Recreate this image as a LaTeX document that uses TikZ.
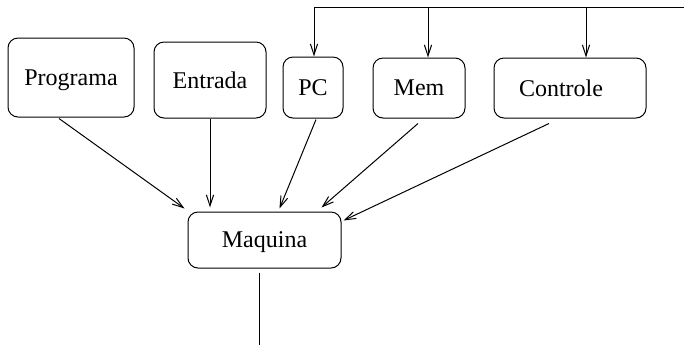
\documentclass[tikz,border=0pt]{standalone}
\usepackage{fontspec}
\setmainfont{Liberation Serif}
\usetikzlibrary{arrows.meta}
\usetikzlibrary{calc}
\usetikzlibrary{positioning}

\tikzset{
  caixa/.style={draw, rounded corners=5pt, inner sep=0pt, line width=0.5pt,
    text depth=0pt, font=\fontsize{12}{14}\selectfont},
  seta/.style={-{Straight Barb[length=5.5pt,width=3.6pt]}, line width=0.5pt}
}

\begin{document}
\begin{tikzpicture}[x=0.5pt, y=-0.5pt]
  \useasboundingbox (0,0) rectangle (684,345);

  \node[caixa, minimum width=63pt, minimum height=39.5pt] (programa) at (71,77.5) {Programa};
  \node[caixa, minimum width=56pt, minimum height=38pt] (entrada) at (210,80) {Entrada};
  \node[caixa, minimum width=30pt, minimum height=30.5pt] (pc) at (313,87.5) {PC};
  \node[caixa, minimum width=46pt, minimum height=30pt] (mem) at (419,88) {Mem};
  \node[caixa, minimum width=76pt, minimum height=30pt] (controle) at (570,88) {Controle\hspace*{9pt}};
  \node[caixa, minimum width=76.5pt, minimum height=28pt] (maquina) at (264.5,240) {Maquina};

  % barramento de cima
  \coordinate (barra) at (684,7);
  \coordinate (bpc) at (314,7);
  \coordinate (bmem) at (428,7);
  \coordinate (bctl) at (586,7);
  \draw[line width=0.5pt] (barra) -- (bpc);
  \draw[seta] (bpc) -- (bpc |- pc.north);
  \draw[seta] (bmem) -- (bmem |- mem.north);
  \draw[seta] (bctl) -- (bctl |- controle.north);

  % entradas da maquina
  \draw[seta] ($(programa.south)+(-12,1)$) -- ($(maquina.north west)+(-3,-3)$);
  \draw[seta] (entrada.south) -- ($(entrada.south |- maquina.north)+(0,-4)$);
  \draw[seta] ($(pc.south)+(3,1)$) -- ($(maquina.north west)+(92,-3)$);
  \draw[seta] ($(mem.south)+(-1,5)$) -- ($(maquina.north west)+(134,-4)$);
  \draw[seta] ($(controle.south)+(-21,5)$) -- ($(maquina.north east)+(2,9)$);

  % saida
  \coordinate (saida) at (259,345);
  \draw[line width=0.5pt] ($(maquina.south -| saida)+(0,4)$) -- (saida);
\end{tikzpicture}
\end{document}
